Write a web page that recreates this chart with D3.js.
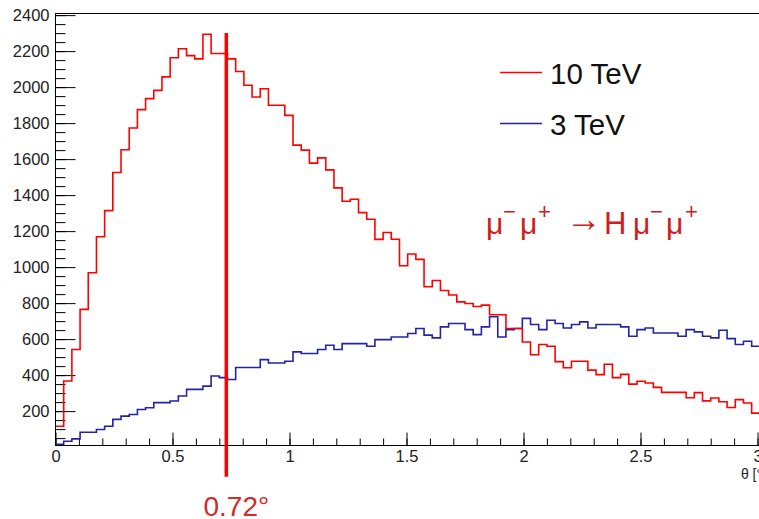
<!DOCTYPE html>
<html><head><meta charset="utf-8">
<script src="https://cdn.jsdelivr.net/npm/d3@7"></script>
<style>
body{margin:0;background:#fff}
svg{display:block}
text{font-family:"Liberation Sans",Arial,Helvetica,sans-serif}
</style>
</head><body>
<svg id="c" width="759" height="519"></svg>
<script>
// ---- data ----
const binWidth = 0.035;           // histogram bin width in degrees
const seriesNames = ["10 TeV", "3 TeV"];
const seriesColors = ["#ff0000", "#2323a5"];
const counts10TeV = [116,367,542,765,969,1169,1314,1526,1652,1773,1875,1936,1982,2057,2163,2213,2175,2157,2294,2187,
  2187,2157,2087,2010,1945,1991,1899,1899,1843,1678,1650,1578,1607,1540,1440,1366,1377,1303,1266,1154,
  1192,1155,1008,1073,1043,891,926,870,845,807,798,781,789,735,735,659,659,584,513,570,
  560,475,441,477,477,428,403,460,386,404,350,366,356,332,304,304,304,274,303,257,
  273,252,220,264,245,189];
const counts3TeV = [15,33,46,83,83,98,116,154,172,181,209,219,247,247,256,284,321,321,339,395,
  386,376,442,442,442,486,467,467,477,529,520,520,542,566,542,575,575,575,560,597,
  597,612,612,631,659,622,607,668,687,687,653,625,668,724,612,653,659,715,681,653,
  705,687,662,681,696,662,681,681,681,668,616,653,662,634,634,634,616,653,640,616,
  607,649,603,570,588,560];
const xMajorTicks = [0, 0.5, 1, 1.5, 2, 2.5, 3];
const xMinorTicks = d3.range(0, 31).map(i => i / 10);
const yMajorTicks = [200,400,600,800,1000,1200,1400,1600,1800,2000,2200,2400];
const yMinorTicks = d3.range(1, 49).map(i => i * 50);
const markerTheta = 0.73, markerLabel = "0.72°";
const markerRange = [2300, -165];
const xTitle = "θ [°]";
// process label pieces: [text, kind, x]
const procPieces = [["μ","base",486],["−","sup",503],["μ","base",520],["+","sup",538],
  ["→","arrow",566],["H","h",604],["μ","base",633],["−","sup",650],["μ","base",666],["+","sup",685]];

// ---- scales ----
const svg = d3.select("#c");
const x = d3.scaleLinear().domain([0, 3]).range([55.5, 757.5]);
const y = d3.scaleLinear().domain([9, 2409]).range([445.5, 13.5]);

svg.append("defs").append("clipPath").attr("id", "plot")
  .append("rect").attr("x", 55.5).attr("y", 13.5).attr("width", 710).attr("height", 432);

// frame
svg.append("rect").attr("x", 55.5).attr("y", 13.5).attr("width", 710).attr("height", 432)
  .attr("fill", "none").attr("stroke", "#000").attr("stroke-width", 1);

// y axis
const gy = svg.append("g").attr("transform", `translate(${x(0)},0)`);
gy.call(d3.axisLeft(y).tickValues(yMinorTicks).tickSize(-10).tickFormat(""))
  .call(g => g.select(".domain").remove());
gy.append("g").call(d3.axisLeft(y).tickValues(yMajorTicks).tickSize(-20).tickPadding(6).tickFormat(d3.format("d")))
  .call(g => g.select(".domain").remove())
  .call(g => g.selectAll("text").attr("font-size", 16.5).attr("fill", "#222")
     .attr("font-family", '"Liberation Sans",Arial,sans-serif'));
gy.selectAll("line").attr("stroke", "#000");

// x axis
const gx = svg.append("g").attr("transform", `translate(0,${y.range()[0]})`);
gx.call(d3.axisBottom(x).tickValues(xMinorTicks).tickSize(-7).tickFormat(""))
  .call(g => g.select(".domain").remove());
gx.append("g").call(d3.axisBottom(x).tickValues(xMajorTicks).tickSize(-13).tickPadding(5).tickFormat(d3.format("~g")))
  .call(g => g.select(".domain").remove())
  .call(g => g.selectAll("text").attr("font-size", 16.5).attr("fill", "#222")
     .attr("font-family", '"Liberation Sans",Arial,sans-serif'));
gx.selectAll("line").attr("stroke", "#000");

svg.append("text").attr("x", 766).attr("y", 479).attr("text-anchor", "end")
  .attr("font-size", 14).attr("fill", "#222").text(xTitle);

// histograms
function stepPoints(arr) {
  const pts = arr.map((v, i) => [i * binWidth, v]);
  pts.push([arr.length * binWidth, arr[arr.length - 1]]);
  return pts;
}
const line = d3.line().x(d => x(d[0])).y(d => y(d[1])).curve(d3.curveStepAfter);
const plot = svg.append("g").attr("clip-path", "url(#plot)");
[counts3TeV, counts10TeV].forEach((arr, k) => {
  plot.append("path").attr("d", line(stepPoints(arr))).attr("fill", "none")
    .attr("stroke", k === 0 ? seriesColors[1] : seriesColors[0]).attr("stroke-width", 1.6);
});

// marker line
svg.append("line").attr("x1", x(markerTheta)).attr("x2", x(markerTheta))
  .attr("y1", y(markerRange[0])).attr("y2", y(markerRange[1]))
  .attr("stroke", "#ff0000").attr("stroke-width", 3.5);
svg.append("text").attr("x", x(markerTheta) + 10).attr("y", 516).attr("text-anchor", "middle")
  .attr("font-size", 28).attr("fill", "#d42a2a").text(markerLabel);

// legend
const leg = svg.append("g");
seriesNames.forEach((name, i) => {
  const yy = 72.5 + i * 51;
  leg.append("line").attr("x1", 500).attr("x2", 542).attr("y1", yy).attr("y2", yy)
    .attr("stroke", seriesColors[i]).attr("stroke-width", 1.5);
  leg.append("text").attr("x", 550).attr("y", yy + 11).attr("font-size", 29.5).attr("fill", "#111").text(name);
});

// process label
const procG = svg.append("g").attr("fill", "#cc2020");
procPieces.forEach(([t, kind, px]) => {
  const el = procG.append("text").attr("x", px).text(t);
  if (kind === "base") el.attr("y", 234).attr("font-size", 30);
  else if (kind === "sup") el.attr("y", 219).attr("font-size", 22);
  else if (kind === "arrow") el.attr("y", 231).attr("font-size", 36).attr("font-family", '"DejaVu Sans",sans-serif').attr("textLength", 34);
  else el.attr("y", 234).attr("font-size", 31);
});
</script>
</body></html>
